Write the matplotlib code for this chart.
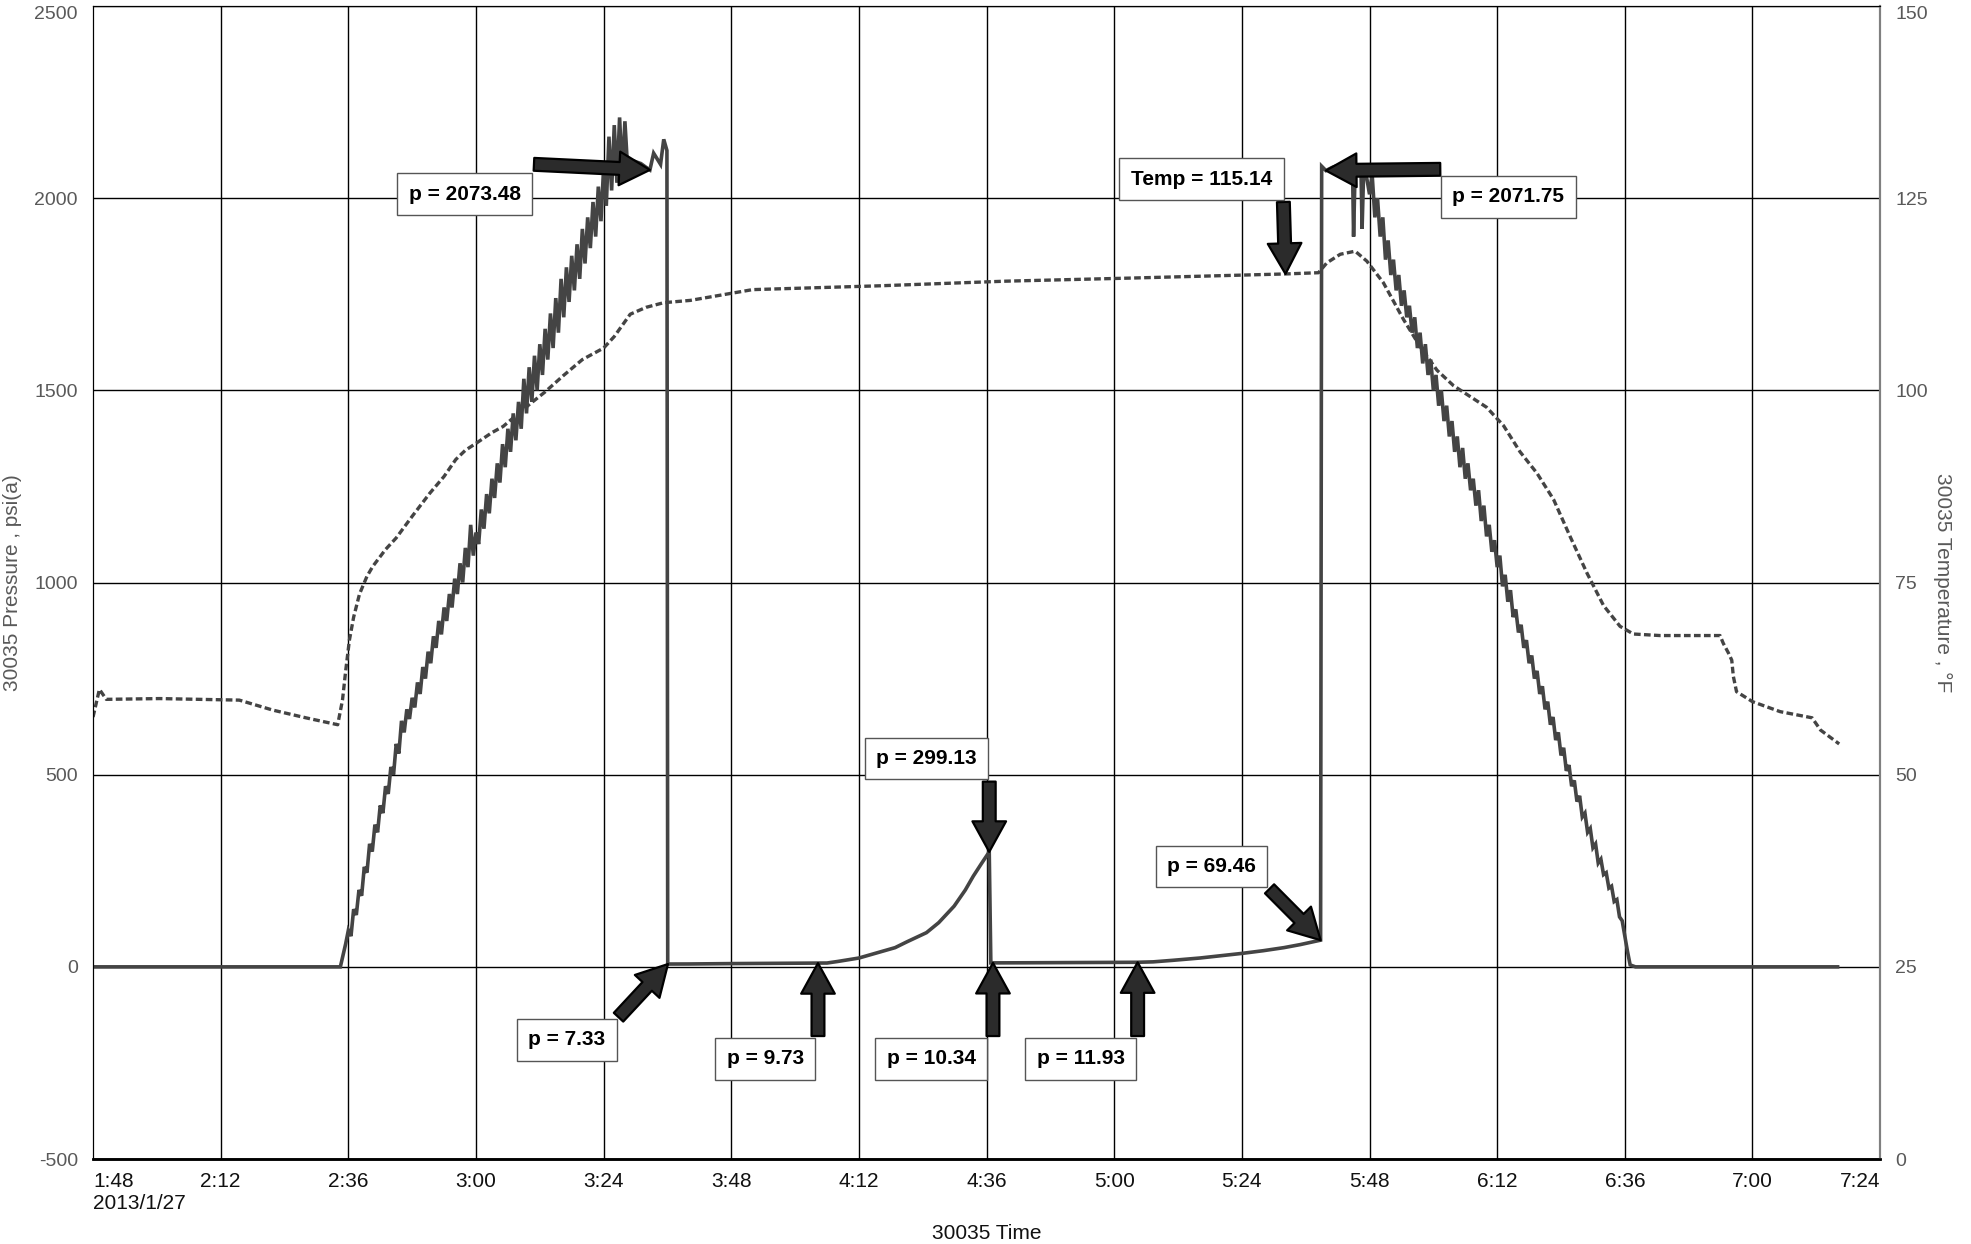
import matplotlib
matplotlib.use('Agg')
import matplotlib.pyplot as plt

plt.rcParams['font.family'] = ['Liberation Sans', 'DejaVu Sans']
plt.rcParams['axes.unicode_minus'] = False

# ---- data (minutes after 1:48 on 2013/1/27) -------------------------------
press_t = [0, 46.5, 47.0, 47.5, 48.0, 48.5, 49.0, 49.5, 50.0, 50.5, 51.0, 51.5,
           52.0, 52.5, 53.0, 53.5, 54.0, 54.5, 55.0, 55.5, 56.0, 56.5, 57.0,
           57.5, 58.0, 58.5, 59.0, 59.5, 60.0, 60.5, 61.0, 61.5, 62.0, 62.5,
           63.0, 63.5, 64.0, 64.5, 65.0, 65.5, 66.0, 66.5, 67.0, 67.5, 68.0,
           68.5, 69.0, 69.5, 70.0, 70.5, 71.0, 71.5, 72.0, 72.5, 73.0, 73.5,
           74.0, 74.5, 75.0, 75.5, 76.0, 76.5, 77.0, 77.5, 78.0, 78.5, 79.0,
           79.5, 80.0, 80.5, 81.0, 81.5, 82.0, 82.5, 83.0, 83.5, 84.0, 84.5,
           85.0, 85.5, 86.0, 86.5, 87.0, 87.5, 88.0, 88.5, 89.0, 89.5, 90.0,
           90.5, 91.0, 91.5, 92.0, 92.5, 93.0, 93.5, 94.0, 94.5, 95.0, 95.5,
           96.0, 96.5, 97.0, 97.5, 98.0, 98.5, 99.0, 99.5, 100.0, 100.5, 101.0,
           102.0, 103.0, 104.0, 104.7, 105.4, 106.7, 107.3, 107.9, 108.05,
           112, 120, 130, 136.3, 138, 140, 144, 147, 150.8, 153, 156.7, 159,
           161.9, 164, 165.5, 167, 168.5, 168.8, 169.2, 175, 185, 196.4, 199.3,
           203, 208.1, 212, 216, 220, 223.9, 227, 230.8, 231.0, 231.8, 233,
           234, 235, 236.8, 237.0, 237.3, 238.4, 238.6, 238.9, 239.5, 240.0,
           240.5, 241.0, 241.5, 242.0, 242.5, 243.0, 243.5, 244.0, 244.5, 245.0,
           245.5, 246.0, 246.5, 247.0, 247.5, 248.0, 248.5, 249.0, 249.5, 250.0,
           250.5, 251.0, 251.5, 252.0, 252.5, 253.0, 253.5, 254.0, 254.5, 255.0,
           255.5, 256.0, 256.5, 257.0, 257.5, 258.0, 258.5, 259.0, 259.5, 260.0,
           260.5, 261.0, 261.5, 262.0, 262.5, 263.0, 263.5, 264.0, 264.5, 265.0,
           265.5, 266.0, 266.5, 267.0, 267.5, 268.0, 268.5, 269.0, 269.5, 270.0,
           270.5, 271.0, 271.5, 272.0, 272.5, 273.0, 273.5, 274.0, 274.5, 275.0,
           275.5, 276.0, 276.5, 277.0, 277.5, 278.0, 278.5, 279.0, 279.5, 280.0,
           280.5, 281.0, 281.5, 282.0, 282.5, 283.0, 283.5, 284.0, 284.5, 285.0,
           285.5, 286.0, 286.5, 287.0, 287.5, 288.0, 288.5, 289.0, 290.0, 328.0]
press_v = [0, 0, 30, 60, 95, 80, 150, 135, 200, 185, 260, 245,
           320, 300, 370, 350, 420, 400, 470, 450, 520, 500, 580,
           555, 640, 610, 670, 645, 700, 675, 740, 710, 780, 750,
           820, 790, 860, 830, 900, 865, 935, 900, 970, 935, 1010,
           970, 1050, 1000, 1090, 1040, 1150, 1070, 1130, 1100, 1190, 1140,
           1230, 1180, 1270, 1220, 1310, 1260, 1360, 1300, 1400, 1340, 1440,
           1370, 1470, 1400, 1530, 1440, 1560, 1470, 1590, 1500, 1620, 1540,
           1660, 1580, 1700, 1610, 1740, 1650, 1790, 1690, 1820, 1730, 1850,
           1760, 1880, 1790, 1920, 1830, 1950, 1870, 1990, 1900, 2030, 1940,
           2080, 1980, 2160, 2020, 2190, 2040, 2210, 2060, 2200, 2080, 2100,
           2095, 2090, 2080, 2073.48, 2117, 2088, 2153, 2124, 7.33,
           7.5, 8.5, 9.3, 9.73, 10, 14, 23, 35, 50, 65, 89, 115,
           158, 200, 236, 268, 299.13, 10.34, 10.34, 10.6, 11.2, 11.93, 13,
           17, 23, 29, 35, 42, 50, 58, 69.46, 2083, 2071.75, 2080,
           2085, 2080, 2080, 1900, 2080, 2070, 1920, 2075, 2050, 2010,
           2060, 1950, 2000, 1900, 1950, 1840, 1890, 1800, 1840, 1760,
           1800, 1720, 1760, 1690, 1720, 1650, 1690, 1610, 1650, 1570,
           1620, 1540, 1580, 1500, 1540, 1460, 1500, 1420, 1460, 1380,
           1420, 1340, 1380, 1300, 1350, 1270, 1310, 1240, 1270, 1200,
           1240, 1160, 1200, 1120, 1150, 1080, 1110, 1040, 1070, 990,
           1020, 950, 980, 910, 930, 870, 890, 830, 850, 790,
           810, 750, 770, 710, 730, 670, 690, 630, 650, 590,
           610, 550, 570, 510, 525, 470, 485, 430, 445, 390,
           400, 350, 360, 310, 320, 270, 280, 240, 245, 205,
           210, 170, 175, 130, 120, 80, 40, 5, 0, 0]

temp_t = [0, 1.2, 2.5, 12.5, 27.5, 33.8, 40, 46, 46.9, 47.5, 48.2, 49, 50.1,
          51.5, 52.6, 55, 57, 60.1, 63.3, 66, 68.2, 70, 72, 75, 77.1, 80, 82.1,
          85, 88.4, 92, 96, 98, 101, 104, 107.3, 112.3, 124, 148, 171.6, 195,
          224.2, 230.4, 232, 234.5, 237.3, 239.5, 242.6, 246.4, 249.5, 252.7,
          255.8, 258.9, 262, 265.2, 268.3, 271.5, 274.6, 277.7, 280.9, 284,
          287.1, 289.6, 294.6, 305.9, 306.5, 307.5, 308.1, 308.4, 309, 312,
          317.2, 323.2, 324.8, 328.3]
temp_v = [57.5, 61.1, 59.8, 59.9, 59.7, 58.4, 57.4, 56.5, 59.7, 63.5, 67.5,
          70.5, 73.5, 75.8, 77.1, 79.3, 80.8, 83.7, 86.6, 88.8, 91, 92.2, 93.1,
          94.5, 95.3, 97, 98.2, 99.8, 101.9, 104, 105.5, 107, 109.9, 110.8,
          111.4, 111.7, 113.1, 113.6, 114.2, 114.6, 115.14, 115.3, 116.6, 117.7,
          118.1, 116.8, 114, 109.2, 105.7, 102.6, 100.6, 99.2, 97.8, 95.4, 92,
          89.2, 85.8, 81, 76.2, 72, 69.3, 68.3, 68.1, 68.1, 67.1, 65.8, 64.9,
          62.8, 60.8, 59.5, 58.2, 57.4, 55.8, 54.0]

tick_t = list(range(0, 337, 24))
tick_lbl = ['1:48\n2013/1/27', '2:12', '2:36', '3:00', '3:24', '3:48', '4:12',
            '4:36', '5:00', '5:24', '5:48', '6:12', '6:36', '7:00', '7:24']

# callouts: label, tip (t, value on pressure axis), tail, box centre
callouts = [
    ('p = 2073.48',   (104.7, 2073.48), (82.9, 2088), (69.9, 2010)),
    ('Temp = 115.14', (224.2, -500 + 115.14 * 20), (223.8, 1990), (208.4, 2049)),
    ('p = 2071.75',   (231.8, 2071.75), (253.3, 2075), (266.1, 2003)),
    ('p = 299.13',    (168.5, 299.13), (168.5, 482), (156.7, 542)),
    ('p = 69.46',     (230.8, 69.46), (221.2, 203), (210.3, 261)),
    ('p = 7.33',      (108.1, 7.33), (98.8, -131), (89.1, -190)),
    ('p = 9.73',      (136.3, 9.73), (136.3, -180), (126.4, -239)),
    ('p = 10.34',     (169.2, 10.34), (169.2, -180), (157.6, -239)),
    ('p = 11.93',     (196.4, 11.93), (196.4, -180), (185.7, -239)),
]

GRAY = '#595959'
LINE = '#444444'

fig = plt.figure(figsize=(19.71, 12.44), dpi=100)
fig.patch.set_facecolor('white')
ax = fig.add_axes([0.0472, 0.0683, 0.9067, 0.9269])
ax2 = ax.twinx()
ax.set_zorder(ax2.get_zorder() + 1)
ax.patch.set_visible(False)

ax2.plot(temp_t, temp_v, color=LINE, lw=2.4, ls=(0, (2.0, 1.0)))
ax.plot(press_t, press_v, color=LINE, lw=2.6, solid_joinstyle='miter')

ax.set_xlim(0, 336)
ax.set_ylim(-500, 2500)
ax2.set_ylim(0, 150)
ax.set_yticks(range(-500, 2501, 500))
ax2.set_yticks(range(0, 151, 25))
ax.set_xticks(tick_t)
ax.set_xticklabels(tick_lbl)
xl = ax.get_xticklabels()
xl[0].set_ha('left')
xl[-1].set_ha('right')

# grid behind everything, on the lower axes
for t in tick_t[1:-1]:
    ax2.axvline(t, color='black', lw=1.0, zorder=0)
ax2.grid(True, axis='y', color='black', lw=1.0)
ax2.set_axisbelow(True)

ax.tick_params(axis='x', length=0, pad=9, labelsize=15, labelcolor='#111111')
ax.tick_params(axis='y', length=0, pad=11, labelsize=14, labelcolor=GRAY)
ax2.tick_params(axis='y', length=0, pad=11, labelsize=14, labelcolor=GRAY)
ax.get_yticklabels()[-1].set_va('top')
ax2.get_yticklabels()[-1].set_va('top')

for a in (ax, ax2):
    a.spines['left'].set_color('black')
    a.spines['top'].set_color('black')
    a.spines['bottom'].set_color('black')
    a.spines['bottom'].set_linewidth(1.8)
    a.spines['right'].set_color('#808080')
    a.spines['right'].set_linewidth(1.5)

ax.set_ylabel('30035 Pressure , psi(a)', fontsize=15, color=GRAY)
ax.yaxis.set_label_coords(-0.040, 0.5)
ax2.set_ylabel('30035 Temperature , °F', fontsize=15, color=GRAY, rotation=270, va='center')
ax2.yaxis.set_label_coords(1.035, 0.5)
ax.set_xlabel('30035 Time', fontsize=15, color='#111111')
ax.xaxis.set_label_coords(0.5, -0.056)

for txt, tip, tail, box in callouts:
    ax.annotate('', xy=tip, xytext=tail, zorder=6,
                arrowprops=dict(arrowstyle='simple,head_length=1.0,head_width=1.1,tail_width=0.42',
                                fc='#2b2b2b', ec='black', lw=1.6, mutation_scale=22,
                                shrinkA=0, shrinkB=0))
    ax.text(box[0], box[1], txt, ha='center', va='center', fontsize=15,
            fontweight='bold', color='black', zorder=7,
            bbox=dict(boxstyle='square,pad=0.55', fc='white', ec='#555555', lw=1.0))

fig.savefig('out.png', dpi=100, facecolor='white')
